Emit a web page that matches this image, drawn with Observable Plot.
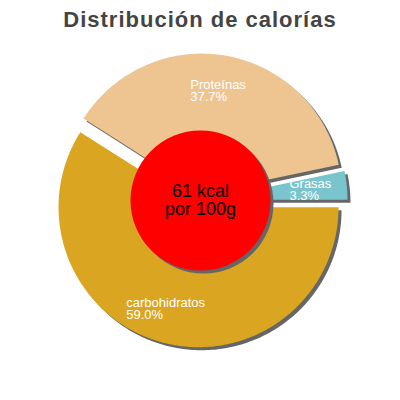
<!DOCTYPE html>
<html>
<head>
<meta charset="utf-8">
<script src="https://cdn.jsdelivr.net/npm/d3@7"></script>
<script src="https://cdn.jsdelivr.net/npm/@observablehq/plot@0.6"></script>
<style>
  html, body { margin: 0; padding: 0; background: #fff; }
  #wrap { width: 400px; height: 400px; position: relative; overflow: hidden; }
  #title { height: 40px; text-align: center; font: bold 22px "Liberation Sans", Arial, sans-serif; line-height: 39px; letter-spacing: 1px; color: #444; }
  #chart svg { display: block; }
</style>
</head>
<body>
<div id="wrap">
  <div id="title">Distribución de calorías</div>
  <div id="chart"></div>
</div>
<script>
// ---- data ----
const categories = ["carbohidratos", "Proteínas", "Grasas"];
const percentages = [59.0, 37.7, 3.3];
const centerLines = ["61 kcal", "por 100g"];

// ---- styles ----
const palette = ["#DAA520", "#EEC591", "#7AC5CD"];
const shadowColor = "#666666";
const fontFamily = "'Liberation Sans', Arial, sans-serif";
const labelSize = 13;
const labelSpacing = 0.6;

const rows = categories.map((name, i) => ({name, pct: percentages[i], color: palette[i]}));

const pie = d3.pie().sort(null).value(d => d.pct)
  .startAngle(Math.PI / 2).endAngle(Math.PI / 2 + 2 * Math.PI);
const arcs = pie(rows);

const R = 140, R0 = 55, explode = 7, labelR = 105;

const ctx = document.createElement("canvas").getContext("2d");
ctx.font = `${labelSize}px ${fontFamily}`;

const slices = arcs.map(a => {
  const mid = (a.startAngle + a.endAngle) / 2;
  const ox = explode * Math.sin(mid), oy = -explode * Math.cos(mid);
  const n = Math.max(2, Math.ceil((a.endAngle - a.startAngle) / (Math.PI / 180)));
  const pts = [];
  for (let i = 0; i <= n; i++) {
    const t = a.startAngle + (a.endAngle - a.startAngle) * i / n;
    pts.push({x: ox + R * Math.sin(t), y: oy - R * Math.cos(t)});
  }
  for (let i = n; i >= 0; i--) {
    const t = a.startAngle + (a.endAngle - a.startAngle) * i / n;
    pts.push({x: ox + R0 * Math.sin(t), y: oy - R0 * Math.cos(t)});
  }
  const cx = ox + labelR * Math.sin(mid), cy = oy - labelR * Math.cos(mid);
  const w = ctx.measureText(a.data.name).width + (a.data.name.length - 1) * labelSpacing;
  return {
    pts, color: a.data.color,
    label: {x: cx - w / 2, y: cy + 1, text: `${a.data.name}\n${a.data.pct.toFixed(1)}%`}
  };
});

const plot = Plot.plot({
  width: 400,
  height: 360,
  margin: 0,
  x: {domain: [-200, 200], range: [0, 400], axis: null},
  y: {domain: [-160, 200], range: [0, 360], axis: null},
  style: {fontFamily, background: "white"},
  marks: [
    ...slices.map(s => Plot.line(s.pts, {x: "x", y: "y", fill: shadowColor, stroke: "none", curve: "linear-closed", dx: 3, dy: 3})),
    ...slices.map(s => Plot.line(s.pts, {x: "x", y: "y", fill: s.color, stroke: "none", curve: "linear-closed"})),
    Plot.dot([{x: 0, y: 0}], {x: "x", y: "y", r: 70, fill: shadowColor, stroke: "none", dx: 3, dy: 3}),
    Plot.dot([{x: 0, y: 0}], {x: "x", y: "y", r: 70, fill: "#FF0000", stroke: "none"}),
    Plot.text(slices.map(s => s.label), {x: "x", y: "y", text: "text", fill: "white", fontSize: labelSize, textAnchor: "start", lineAnchor: "middle", lineHeight: 0.95}),
    Plot.text([{x: 0, y: 0, t: centerLines.join("\n")}], {x: "x", y: "y", text: "t", fill: "black", fontSize: 18, lineAnchor: "middle", lineHeight: 0.95})
  ]
});
plot.querySelectorAll("text").forEach(t => { if (t.getAttribute("fill") === "white") t.style.letterSpacing = labelSpacing + "px"; });
document.getElementById("chart").appendChild(plot);
</script>
</body>
</html>
